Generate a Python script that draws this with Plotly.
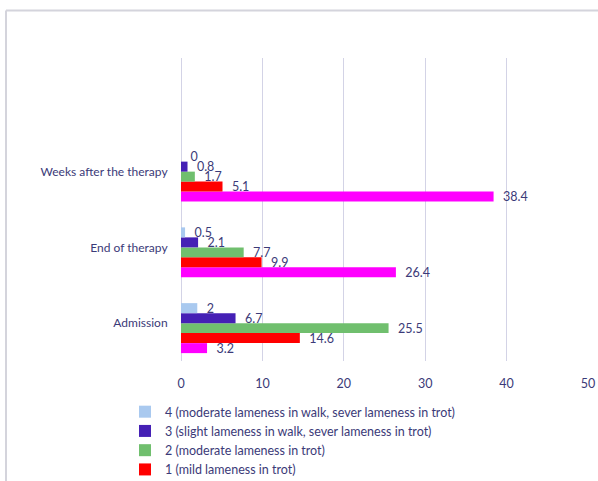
import plotly.graph_objects as go

# Lameness grade distribution per examination stage
stages = ["Admission", "End of therapy", "Weeks after the therapy"]
grade0 = [3.2, 26.4, 38.4]
grade1 = [14.6, 9.9, 5.1]
grade2 = [25.5, 7.7, 1.7]
grade3 = [6.7, 2.1, 0.8]
grade4 = [2, 0.5, 0]

series_names = [
    "0 (no lameness)",
    "1 (mild lameness in trot)",
    "2 (moderate lameness in trot)",
    "3 (slight lameness in walk, sever lameness in trot)",
    "4 (moderate lameness in walk, sever lameness in trot)",
]
series_values = [grade0, grade1, grade2, grade3, grade4]
series_colors = ["#ff00ff", "#ff0000", "#70bf6e", "#4520b5", "#a9c9ef"]

TEXT = "#3b3a78"
FONT = "Lato"
BAR_W = 0.132

fig = go.Figure()
for i, (name, vals, col) in enumerate(zip(series_names, series_values, series_colors)):
    fig.add_trace(go.Bar(
        y=stages,
        x=vals,
        name=name,
        orientation="h",
        marker=dict(color=col, line=dict(width=0)),
        width=BAR_W,
        offset=-0.396 + i * BAR_W,
        text=[f"\u00a0\u00a0{v:g}" for v in vals],
        textposition="outside",
        constraintext="none",
        cliponaxis=False,
        textfont=dict(family=FONT, size=12.5, color=TEXT),
        showlegend=(i > 0),
    ))

# chart frame (left and top edges)
fig.add_shape(type="line", xref="paper", yref="paper",
              x0=-0.43, x1=1.2, y0=1.157, y1=1.157,
              line=dict(color="#d4d4dc", width=2))
fig.add_shape(type="line", xref="paper", yref="paper",
              x0=-0.43, x1=-0.43, y0=1.157, y1=-0.5,
              line=dict(color="#d4d4dc", width=2))

fig.update_layout(
    width=598,
    height=481,
    margin=dict(l=181, r=10, t=58, b=120, autoexpand=False),
    paper_bgcolor="white",
    plot_bgcolor="white",
    barmode="overlay",
    font=dict(family=FONT, size=12.5, color=TEXT),
    xaxis=dict(
        range=[0, 50],
        tickvals=[0, 10, 20, 30, 40, 50],
        showgrid=True,
        gridcolor="#d3d3e6",
        gridwidth=1,
        zeroline=True,
        zerolinecolor="#d3d3e6",
        zerolinewidth=1,
        showline=False,
        ticks="outside",
        ticklen=11,
        tickcolor="rgba(0,0,0,0)",
        tickfont=dict(family=FONT, size=12.5, color=TEXT),
        fixedrange=True,
    ),
    yaxis=dict(
        type="category",
        categoryorder="array",
        categoryarray=stages,
        range=[-0.5, 3.5],
        showgrid=False,
        zeroline=False,
        showline=False,
        ticks="outside",
        ticklen=10,
        tickcolor="rgba(0,0,0,0)",
        tickfont=dict(family=FONT, size=12, color=TEXT),
        fixedrange=True,
    ),
    legend=dict(
        traceorder="reversed",
        orientation="v",
        x=-0.1376,
        xanchor="left",
        y=-0.119,
        yanchor="top",
        font=dict(family=FONT, size=12.5, color=TEXT),
        bgcolor="rgba(0,0,0,0)",
        itemwidth=30,
        tracegroupgap=0,
    ),
)

fig.write_html("out.html")
